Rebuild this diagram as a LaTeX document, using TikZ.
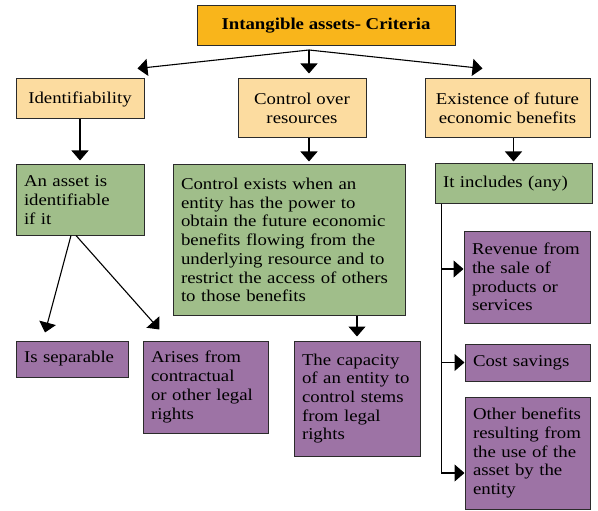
\documentclass[tikz,border=0pt]{standalone}
\usepackage{fontspec}
\setmainfont{Liberation Serif}[FakeStretch=1.14]
\usetikzlibrary{arrows.meta, positioning}
\definecolor{critOrange}{HTML}{F9B51B}
\definecolor{critPeach}{HTML}{FCDCA0}
\definecolor{critGreen}{HTML}{A0BE8A}
\definecolor{critPurple}{HTML}{9D73A5}
\definecolor{critLine}{HTML}{2B2B2B}

\begin{document}
\begin{tikzpicture}[x=1pt, y=-1pt,
    box/.style={rectangle, draw=critLine, line width=1pt, inner xsep=8pt,
                inner ysep=4pt, text=black,
                font=\fontsize{16.5}{18.7}\selectfont},
    head/.style={box, fill=critPeach, align=center},
    info/.style={box, fill=critGreen, align=left},
    item/.style={box, fill=critPurple, align=left},
    arrow/.style={-{Triangle[length=10pt, width=17pt]}, line width=1.1pt, black}
  ]
  \useasboundingbox (0,0) rectangle (598,511);

  % top level
  \node[box, fill=critOrange, minimum width=258pt, minimum height=40pt,
        font=\fontsize{16.5}{18.7}\selectfont\bfseries] (title) at (326,26)
        {Intangible assets- Criteria};
  \coordinate (fork) at (309,50);

  % criteria
  \node[head, minimum width=128pt, minimum height=40pt] (ident) at (80,99) {Identifiability};
  \node[head, minimum width=128pt, minimum height=59pt] (ctrl) at (302,108.5) {Control over\\resources};
  \node[head, minimum width=165pt, minimum height=59pt] (exist) at (507.5,108.5) {Existence of future\\economic benefits};

  % explanations
  \node[info, text width=112pt, minimum height=70pt] (asset) at (80,200)
        {An asset is\\identifiable\\if it};
  \node[info, text width=216pt, minimum height=150pt] (ctrlx) at (289,240)
        {Control exists when an\\entity has the power to\\obtain the future economic\\benefits flowing from the\\underlying resource and to\\restrict the access of others\\to those benefits};
  \node[info, text width=141pt, minimum height=39pt] (incl) at (513.5,183.5) {It includes (any)};

  % details
  \node[item, text width=96pt, minimum height=36pt] (sep) at (72,359) {Is separable};
  \node[item, text width=109pt, minimum height=92pt] (arise) at (205.5,387)
        {Arises from\\contractual\\or other legal\\rights};
  \node[item, text width=110pt, minimum height=115pt] (capac) at (357,398.5)
        {The capacity\\of an entity to\\control stems\\from legal\\rights};
  \node[item, text width=110pt, minimum height=92pt] (rev) at (527,277)
        {Revenue from\\the sale of\\products or\\services};
  \node[item, text width=109pt, minimum height=37pt] (cost) at (527.5,362.5) {Cost savings};
  \node[item, text width=109pt, minimum height=112pt] (other) at (527.5,453)
        {Other benefits\\resulting from\\the use of the\\asset by the\\entity};

  % arrows
  \draw[arrow] (fork) -- ([shift={(-7,-10)}]ident.north east);
  \draw[arrow, shorten >=5pt] (fork) -- (fork |- ctrl.north);
  \draw[arrow] (fork) -- ([shift={(58,-10)}]exist.north west);

  \draw[arrow, shorten >=4pt] (ident) -- (asset);
  \draw[arrow, shorten >=3pt] (ctrl.south -| fork) -- (ctrlx.north -| fork);
  \draw[arrow, shorten >=2pt] (exist.south -| incl.north) -- (incl.north);

  \draw[arrow] ([xshift=-9pt]asset.south) -- ([shift={(-27,-8)}]sep.north);
  \draw[arrow] ([xshift=-4pt]asset.south) -- ([shift={(17,-11)}]arise.north west);
  \draw[arrow, shorten >=4pt] (ctrlx.south -| capac.north) -- (capac.north);

  \coordinate (bus) at ([xshift=7pt]incl.south west);
  \draw[arrow] (bus) |- ([yshift=8pt]rev.west);
  \draw[arrow] (bus) |- (cost.west);
  \draw[arrow] (bus) |- ([yshift=-20pt]other.west);
\end{tikzpicture}
\end{document}
